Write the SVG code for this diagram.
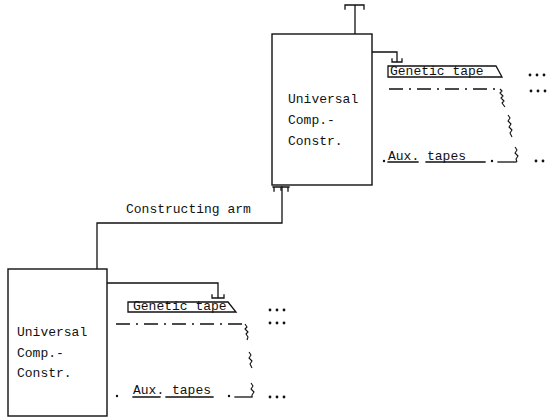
<svg xmlns="http://www.w3.org/2000/svg" width="548" height="419" viewBox="0 0 548 419">
<style>
  .ln{fill:none;stroke:#111;stroke-width:1.3;stroke-linecap:square;stroke-linejoin:miter}
  .wv{fill:none;stroke:#111;stroke-width:1.1;stroke-linejoin:round}
  .dd{fill:none;stroke:#111;stroke-width:1.3;stroke-dasharray:14 6 2 6}
  .box{fill:#fff;stroke:#111;stroke-width:1.4}
  text{font-family:"Liberation Mono","Courier New",monospace;font-size:13px;fill:#111}
  .dot{fill:#111}
</style>
<rect width="548" height="419" fill="#fff"/>

<g id="connectors">
  <!-- constructing arm -->
  <path class="ln" d="M97,269 V223 H282 V187"/>
  <path class="ln" d="M273,187 H289 M274,187 V191 M281,187 V190 M288,187 V191"/>
  <!-- top stub of upper constructor -->
  <path class="ln" d="M355,34 V5 M345,5 H364 M345,5 V9 M364,5 V9"/>
  <!-- upper reading arm -->
  <path class="ln" d="M372,52 H397 V62 M392,62 H402 M392,62 V59 M402,62 V59"/>
  <!-- lower reading arm -->
  <path class="ln" d="M107,283 H218 V298 M212,298 H224 M212,298 V295 M218,298 V295 M224,298 V295"/>
</g>

<g id="constructor-upper">
  <rect class="box" x="272" y="34" width="100" height="151"/>
  <text x="288" y="103">Universal</text>
  <text x="288" y="124">Comp.-</text>
  <text x="288" y="145">Constr.</text>
</g>

<g id="tapes-upper">
  <path class="ln" d="M388,77 V66 H496 L502,77 H388"/>
  <text x="390" y="75">Genetic tape</text>
  <path class="dd" d="M389,89 H500"/>
  <polyline class="wv" points="500,89 502,91 500,93 503,96 501,98 504,101 502,103 505,107"/>
  <polyline class="wv" points="508,115 510,118 508,121 511,124 509,127 512,130 510,133 512,137"/>
  <polyline class="wv" points="515,147 517,150 515,153 518,156 516,159 517,162"/>
  <path class="ln" d="M498,162 H516"/>
  <circle class="dot" cx="384" cy="161" r="1.2"/>
  <text x="388" y="160">Aux. tapes</text>
  <path class="ln" d="M388,162 H418 M426,162 H485"/>
  <circle class="dot" cx="492" cy="161" r="1.2"/>
  <circle class="dot" cx="530" cy="75" r="1.4"/><circle class="dot" cx="537" cy="75" r="1.4"/><circle class="dot" cx="544" cy="75" r="1.4"/>
  <circle class="dot" cx="531" cy="91" r="1.4"/><circle class="dot" cx="538" cy="91" r="1.4"/><circle class="dot" cx="545" cy="91" r="1.4"/>
  <circle class="dot" cx="536" cy="161" r="1.4"/><circle class="dot" cx="543" cy="161" r="1.4"/>
</g>

<g id="constructing-arm-label">
  <text x="126" y="213">Constructing arm</text>
</g>

<g id="constructor-lower">
  <rect class="box" x="8" y="269" width="99" height="147"/>
  <text x="17" y="336">Universal</text>
  <text x="17" y="357">Comp.-</text>
  <text x="17" y="377">Constr.</text>
</g>

<g id="tapes-lower">
  <path class="ln" d="M128,312 V302 H228 L236,312 H128"/>
  <text x="133" y="310">Genetic tape</text>
  <path class="dd" d="M116,324 H245"/>
  <polyline class="wv" points="245,324 247,327 245,329 248,332 246,334 248,337 247,340"/>
  <polyline class="wv" points="249,352 251,355 249,358 252,361 250,364 252,368"/>
  <polyline class="wv" points="251,383 253,386 251,389 254,392 252,395 252,397"/>
  <path class="ln" d="M235,397 H252"/>
  <circle class="dot" cx="117" cy="396" r="1.2"/>
  <text x="133" y="394">Aux. tapes</text>
  <path class="ln" d="M133,397 H160 M166,397 H213"/>
  <circle class="dot" cx="229" cy="396" r="1.2"/>
  <circle class="dot" cx="270" cy="310" r="1.4"/><circle class="dot" cx="277" cy="310" r="1.4"/><circle class="dot" cx="284" cy="310" r="1.4"/>
  <circle class="dot" cx="270" cy="323" r="1.4"/><circle class="dot" cx="277" cy="323" r="1.4"/><circle class="dot" cx="284" cy="323" r="1.4"/>
  <circle class="dot" cx="270" cy="397" r="1.4"/><circle class="dot" cx="277" cy="397" r="1.4"/><circle class="dot" cx="284" cy="397" r="1.4"/>
</g>
</svg>
